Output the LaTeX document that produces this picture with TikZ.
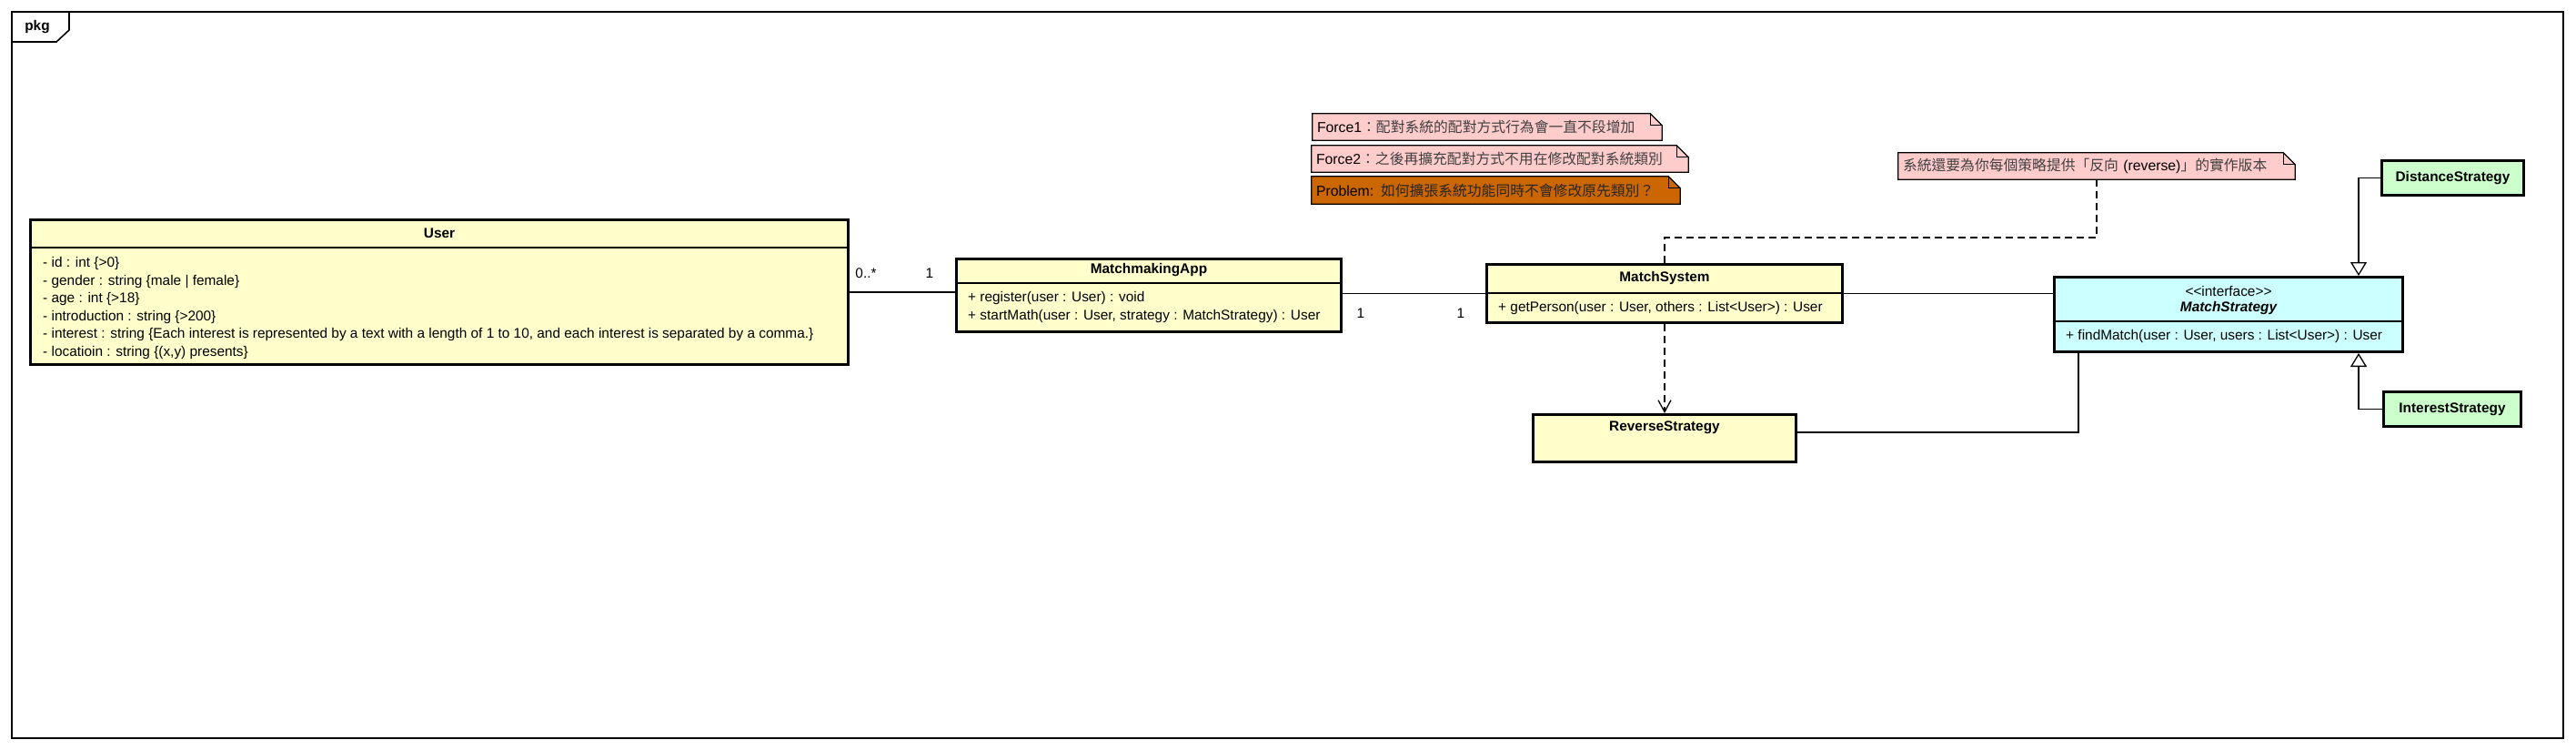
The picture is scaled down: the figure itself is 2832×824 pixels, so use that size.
\documentclass[tikz,border=0pt]{standalone}
\usepackage{fontspec}
\setmainfont{Liberation Sans}
\newfontfamily\cjk{Noto Sans CJK TC}
\usetikzlibrary{arrows.meta,backgrounds}
\definecolor{clsyellow}{HTML}{FFFFCC}
\definecolor{clscyan}{HTML}{CCFFFF}
\definecolor{clsgreen}{HTML}{CCFFCC}
\definecolor{notepink}{HTML}{FFCCCC}
\definecolor{noteorange}{HTML}{CC6600}
\tikzset{
  cls/.style={draw, line width=3pt, fill=clsyellow, inner sep=0pt},
  ctitle/.style={font=\fontsize{15.4}{19}\selectfont\bfseries, inner sep=0pt},
  member/.style={anchor=west, inner sep=0pt},
  notebox/.style={inner xsep=5pt, inner ysep=0pt, align=left, minimum height=29pt,
    font=\fontsize{15.8}{19}\selectfont},
  assoc/.style={line width=1.3pt},
  gen/.style={line width=1.3pt, -{Triangle[open, length=15pt, width=18pt]}},
  dep/.style={line width=1.3pt, dash pattern=on 8pt off 5pt, -{Straight Barb[length=13pt, width=14pt]}},
  notelink/.style={line width=1.3pt, dash pattern=on 8pt off 5pt},
}
\begin{document}
\begin{tikzpicture}[x=1pt, y=-1pt, font=\fontsize{15.4}{19.5}\selectfont]
    \useasboundingbox (0,0) rectangle (2832,824);
    \draw[line width=1.6pt] (13,13) rectangle (2818,811);
    \draw[line width=1.6pt] (13,46) -- (62,46) -- (76,33) -- (76,13);
    \node[ctitle] (pkg) at (41,30) {pkg};

    \node[cls, minimum width=899pt, minimum height=159pt] (user) at (483,321) {};
    \draw[line width=1.3pt] (user.west |- 0,272) -- (user.east |- 0,272);
    \node[ctitle] (usert) at (483,256) {User};
    \node[member] (u1) at (47,290) {- id : int \{>0\}};
    \node[member] (u2) at (47,309.5) {- gender : string \{male | female\}};
    \node[member] (u3) at (47,329) {- age : int \{>18\}};
    \node[member] (u4) at (47,348.5) {- introduction : string \{>200\}};
    \node[member] (u5) at (47,368) {- interest : string \{Each interest is represented by a text with a length of 1 to 10, and each interest is separated by a comma.\}};
    \node[member] (u6) at (47,387.5) {- locatioin : string \{(x,y) presents\}};

    \node[cls, minimum width=423pt, minimum height=80pt] (app) at (1263,324.5) {};
    \draw[line width=1.3pt] (app.west |- 0,311) -- (app.east |- 0,311);
    \node[ctitle] (appt) at (1263,297) {MatchmakingApp};
    \node[member] (a1) at (1064,328) {+ register(user : User) : void};
    \node[member] (a2) at (1064,347.5) {+ startMath(user : User, strategy : MatchStrategy) : User};

    \node[cls, minimum width=391pt, minimum height=64pt] (system) at (1830,322.5) {};
    \draw[line width=1.3pt] (system.west |- 0,322) -- (system.east |- 0,322);
    \node[ctitle] (systemt) at (1830,306) {MatchSystem};
    \node[member] (s1) at (1647,339) {+ getPerson(user : User, others : List<User>) : User};

    \node[cls, fill=clscyan, minimum width=383pt, minimum height=82pt] (strategy) at (2450,345.5) {};
    \draw[line width=1.3pt] (strategy.west |- 0,353) -- (strategy.east |- 0,353);
    \node[inner sep=0pt] (stereo) at (2450,320) {<{}<interface>{}>};
    \node[ctitle, font=\fontsize{15.4}{19}\selectfont\bfseries\itshape] (strategyt) at (2450,339) {MatchStrategy};
    \node[member] (m1) at (2271,370) {+ findMatch(user : User, users : List<User>) : User};

    \node[cls, ctitle, fill=clsgreen, minimum width=156pt, minimum height=38pt] (distance) at (2696.5,195.5) {DistanceStrategy};
    \node[cls, ctitle, fill=clsgreen, minimum width=151pt, minimum height=38pt] (interest) at (2696,449.5) {InterestStrategy};

    \node[cls, minimum width=289pt, minimum height=52pt] (reverse) at (1830,481.5) {};
    \node[ctitle] (reverset) at (1830,470) {ReverseStrategy};

    \node[notebox, text width=374pt] (force1) at (1635,139.5) {Force1{\cjk\color{black!75}：配對系統的配對方式行為會一直不段增加}};
    \node[notebox, text width=404pt] (force2) at (1649,174.5) {Force2{\cjk\color{black!75}：之後再擴充配對方式不用在修改配對系統類別}};
    \node[notebox, text width=395pt, minimum height=30pt] (problem) at (1644.5,209) {Problem: {\cjk\color{black!85}如何擴張系統功能同時不會修改原先類別？}};
    \node[notebox, text width=426pt] (revnote) at (2305,182.5) {{\cjk\color{black!75}系統還要為你每個策略提供「反向} (reverse){\cjk\color{black!75}」的實作版本}};
    \begin{scope}[on background layer]
    \foreach \n/\c in {force1/notepink, force2/notepink, problem/noteorange, revnote/notepink}{
        \draw[line width=1.3pt, fill=\c] (\n.south west) -- (\n.north west) -- ([xshift=-13pt]\n.north east)
            -- ([yshift=-13pt]\n.north east) -- (\n.south east) -- cycle;
        \draw[line width=1.3pt] ([xshift=-13pt]\n.north east) -- ([xshift=-13pt,yshift=-13pt]\n.north east)
            -- ([yshift=-13pt]\n.north east);
    }
    \end{scope}

    \draw[assoc] (user.east) -- (user.east -| app.west);
    \node (mult1) at (952,300) {0..*};
    \node (mult2) at (1022,300) {1};
    \draw[assoc] (app.east |- system.west) -- (system.west);
    \node (mult3) at (1496,344) {1};
    \node (mult4) at (1606,344) {1};
    \draw[assoc] (system.east) -- (system.east -| strategy.west);

    \coordinate (genx) at (2593,0);
    \draw[gen] (distance.west) -| (genx |- strategy.north);
    \draw[gen] (interest.west) -| (genx |- strategy.south);

    \coordinate (revx) at (2285,0);
    \draw[assoc] ([yshift=6.5pt]reverse.east) -| (revx |- strategy.south);
    \draw[dep] (system.south) -- (reverse.north);

    \coordinate (bend) at (2305,261);
    \draw[notelink] (revnote.south) -- (bend) -| (system.north);
\end{tikzpicture}
\end{document}
